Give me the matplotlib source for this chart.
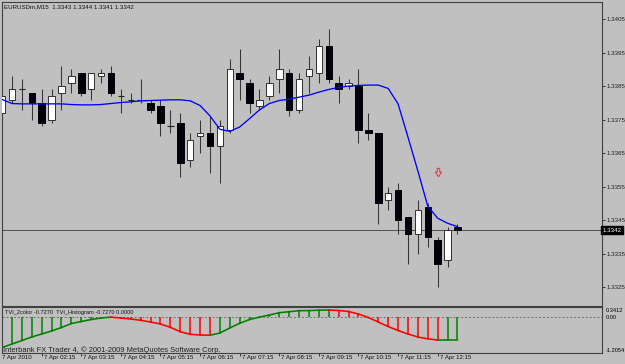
import matplotlib
matplotlib.use('Agg')  # headless
import matplotlib.pyplot as plt
import matplotlib.transforms as mtrans
from matplotlib.path import Path

# EURUSDm M15, 7 Apr 2010 01:15 .. 12:45
opens = [1.3377, 1.3381, 1.3384, 1.3383, 1.3380, 1.3375, 1.3383, 1.3386, 1.3389, 1.3384,
         1.3388, 1.3389, 1.3382, 1.3381, 1.3381, 1.3380, 1.3379, 1.3373, 1.3374, 1.3363,
         1.3370, 1.3371, 1.3367, 1.3372, 1.3389, 1.3386, 1.3379, 1.3382, 1.3387, 1.3389,
         1.3378, 1.3388, 1.3389, 1.3397, 1.3386, 1.3385, 1.3385, 1.3372, 1.3371, 1.3351,
         1.3354, 1.3346, 1.3341, 1.3349, 1.3339, 1.3333, 1.3343]
highs = [1.3383, 1.3388, 1.3387, 1.3383, 1.3384, 1.3384, 1.3391, 1.3390, 1.3389, 1.3389,
         1.3390, 1.3391, 1.3384, 1.3383, 1.3387, 1.3381, 1.3381, 1.3378, 1.3377, 1.3371,
         1.3375, 1.3376, 1.3375, 1.3393, 1.3396, 1.3387, 1.3384, 1.3388, 1.3396, 1.3390,
         1.3389, 1.3394, 1.3399, 1.3402, 1.3388, 1.3387, 1.3390, 1.3377, 1.3371, 1.3355,
         1.3356, 1.3346, 1.3351, 1.3350, 1.3340, 1.3343, 1.3344]
lows = [1.3375, 1.3380, 1.3378, 1.3375, 1.3373, 1.3374, 1.3378, 1.3383, 1.3382, 1.3381,
        1.3386, 1.3382, 1.3377, 1.3380, 1.3380, 1.3377, 1.3370, 1.3371, 1.3358, 1.3361,
        1.3365, 1.3359, 1.3356, 1.3371, 1.3381, 1.3377, 1.3378, 1.3381, 1.3383, 1.3376,
        1.3377, 1.3383, 1.3386, 1.3386, 1.3380, 1.3384, 1.3368, 1.3369, 1.3344, 1.3348,
        1.3341, 1.3332, 1.3335, 1.3337, 1.3325, 1.3331, 1.3341]
closes = [1.3382, 1.3384, 1.3384, 1.3380, 1.3374, 1.3382, 1.3385, 1.3388, 1.3383, 1.3389,
          1.3389, 1.3383, 1.3382, 1.3381, 1.3381, 1.3378, 1.3374, 1.3373, 1.3362, 1.3369,
          1.3371, 1.3367, 1.3373, 1.3390, 1.3387, 1.3380, 1.3381, 1.3386, 1.3390, 1.3378,
          1.3387, 1.3390, 1.3397, 1.3387, 1.3384, 1.3386, 1.3372, 1.3371, 1.3350, 1.3353,
          1.3345, 1.3341, 1.3348, 1.3340, 1.3332, 1.3342, 1.3342]

# blue moving average
ma = [1.33810, 1.33798, 1.33797, 1.33797, 1.33797, 1.33797, 1.33797, 1.33795, 1.33794, 1.33794,
      1.33795, 1.33798, 1.33801, 1.33803, 1.33806, 1.33807, 1.33808, 1.33809, 1.33809, 1.33806,
      1.33792, 1.33761, 1.33721, 1.33715, 1.33728, 1.33753, 1.33779, 1.33798, 1.33807, 1.33811,
      1.33817, 1.33823, 1.33832, 1.33840, 1.33846, 1.33850, 1.33852, 1.33853, 1.33853, 1.33843,
      1.33797, 1.33698, 1.33597, 1.33492, 1.33456, 1.33441, 1.33431]

# TVI indicator values
tvi = [-0.968, -0.856, -0.744, -0.631, -0.535, -0.439, -0.327, -0.199, -0.135, -0.071,
       -0.022, 0.005, -0.022, -0.054, -0.096, -0.151, -0.215, -0.321, -0.462, -0.545,
       -0.567, -0.574, -0.503, -0.343, -0.192, -0.071, 0.005, 0.074, 0.147, 0.179,
       0.212, 0.215, 0.228, 0.234, 0.218, 0.186, 0.106, -0.006, -0.151, -0.295,
       -0.423, -0.535, -0.631, -0.689, -0.7285, -0.7278, -0.7270]

time_labels = ["7 Apr 2010", "7 Apr 02:15", "7 Apr 03:15", "7 Apr 04:15", "7 Apr 05:15",
               "7 Apr 06:15", "7 Apr 07:15", "7 Apr 08:15", "7 Apr 09:15", "7 Apr 10:15",
               "7 Apr 11:15", "7 Apr 12:15"]
label_idx = [0, 4, 8, 12, 16, 20, 24, 28, 32, 36, 40, 44]
price_ticks = [1.3325, 1.3335, 1.3345, 1.3355, 1.3365, 1.3375, 1.3385, 1.3395, 1.3405]
bid = 1.3342
signal_idx = 44
signal_price = 1.33595

BG = '#c0c0c0'
FRAME = '#404040'
FONT = 'Liberation Sans'
W, H = 625, 364

def rect(x0, y0, x1, y1):
    return [x0 / W, 1 - y1 / H, (x1 - x0) / W, (y1 - y0) / H]

fig = plt.figure(figsize=(W / 100, H / 100), dpi=100)
fig.patch.set_facecolor(BG)
ax = fig.add_axes(rect(1.7, 1.5, 601.7, 305.5))
ax2 = fig.add_axes(rect(1.7, 307, 601.7, 352.5))

for a in (ax, ax2):
    a.set_facecolor(BG)
    for s in a.spines.values():
        s.set_color(FRAME)
        s.set_linewidth(0.8)
    a.set_xlim(-0.04, 60.57)

n = len(opens)
xs = list(range(n))

# --- candles
ax.vlines(xs, lows, highs, color='#353535', lw=0.75, zorder=2)
bw = 0.66
for i in xs:
    o, c = opens[i], closes[i]
    if abs(c - o) < 1e-6:
        ax.hlines(o, i - bw / 2, i + bw / 2, color='#202020', lw=0.8, zorder=3)
    elif c > o:
        ax.bar(i, c - o, bottom=o, width=bw, facecolor='white', edgecolor='#303030',
               linewidth=0.7, zorder=3)
    else:
        ax.bar(i, o - c, bottom=c, width=bw, facecolor='#000008', edgecolor='#000008',
               linewidth=0.7, zorder=3)

ax.plot(xs, ma, color='#0000ff', lw=0.95, zorder=4)
ax.axhline(bid, color='#505050', lw=0.7, zorder=1.5)

# hollow down arrow (signal)
arrow = Path([(-0.3, 1), (0.3, 1), (0.3, 0.1), (0.75, 0.1), (0, -1), (-0.75, 0.1),
              (-0.3, 0.1), (-0.3, 1)], closed=True)
ax.plot([signal_idx], [signal_price], marker=arrow, markersize=6, mfc='none',
        mec='#e83030', mew=0.7, ls='none', zorder=5)

ax.set_ylim(1.331958, 1.341022)
ax.set_xticks([])
ax.yaxis.tick_right()
ax.set_yticks(price_ticks)
ax.set_yticklabels(['%.4f' % p for p in price_ticks], family=FONT, fontsize=4.4)
ax.tick_params(axis='y', length=2, width=0.6, pad=1.5, colors='#202020')

ax.text(1.002, bid, '%.4f' % bid, transform=mtrans.blended_transform_factory(ax.transAxes, ax.transData),
        ha='left', va='center', color='white', family=FONT, fontsize=4.4,
        bbox=dict(boxstyle='square,pad=0.25', facecolor='black', edgecolor='black'))

# --- indicator
cols = []
for i in xs:
    if i == 0 or tvi[i] >= tvi[i - 1]:
        cols.append('#008000')
    else:
        cols.append('#ff0000')
ax2.axhline(0, color='#707070', lw=0.7, ls=(0, (2, 2)), zorder=1)
ax2.vlines(xs, 0, tvi, colors=cols, lw=1.1, zorder=2)
for i in xs[1:]:
    ax2.plot([i - 1, i], [tvi[i - 1], tvi[i]], color=cols[i], lw=1.15, zorder=3)
ax2.set_ylim(-1.128, 0.330)
ax2.set_yticks([])
ax2.set_xticks(label_idx[1:])
ax2.set_xticklabels([])
ax2.tick_params(axis='x', length=2.5, width=0.6, colors='#202020', direction='out')

yt = mtrans.blended_transform_factory(ax2.transAxes, ax2.transData)
ax2.text(1.006, 0.21, '0.3412', transform=yt, ha='left', va='center', family=FONT, fontsize=4.1)
ax2.text(1.006, 0.0, '0.00', transform=yt, ha='left', va='center', family=FONT, fontsize=4.1)
ax2.text(1.006, -1.048, '-1.2054', transform=yt, ha='left', va='center', family=FONT, fontsize=4.1)

for k, (idx, lbl) in enumerate(zip(label_idx, time_labels)):
    ax2.annotate(lbl, xy=(idx, 0), xycoords=('data', 'axes fraction'),
                 xytext=(0 if k == 0 else 2, -3), textcoords='offset pixels',
                 ha='left', va='top', family=FONT, fontsize=4.4, color='#101010')

fig.text(4 / W, 1 - 7 / H, 'EURUSDm,M15  1.3343 1.3344 1.3341 1.3342', ha='left', va='center',
         family=FONT, fontsize=4.4, color='#101010')
fig.text(5 / W, 1 - 312.7 / H, 'TVI_2color -0.7270  TVI_Histogram -0.7270 0.0000', ha='left',
         va='center', family=FONT, fontsize=4.1, color='#101010')
fig.text(3 / W, 1 - 350 / H, 'Interbank FX Trader 4, \u00a9 2001-2009 MetaQuotes Software Corp.',
         ha='left', va='center', family=FONT, fontsize=5.4, color='#202020')

fig.savefig('out.png', dpi=100, facecolor=BG)
